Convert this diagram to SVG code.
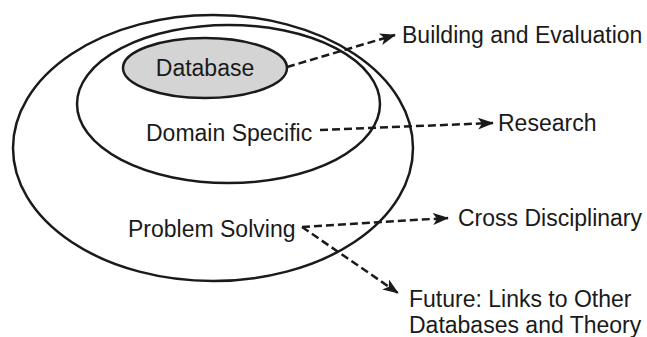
<svg xmlns="http://www.w3.org/2000/svg" width="647" height="337" viewBox="0 0 647 337">
<style>
.ring{fill:none;stroke:#1a1a1a;stroke-width:2.5}
.db{fill:#d4d4d4;stroke:#1a1a1a;stroke-width:2.5}
.t{font-family:"Liberation Sans",Arial,sans-serif;font-size:23px;fill:#1a1a1a}
.c{fill:none;stroke:#1a1a1a;stroke-width:2.5;stroke-dasharray:8 4;marker-end:url(#ah)}
</style>
<defs>
<marker id="ah" viewBox="0 0 16 12" refX="15" refY="6" markerWidth="16" markerHeight="12" markerUnits="userSpaceOnUse" orient="auto">
<path d="M0,0 L16,6 L0,12 L4,6 z" fill="#1a1a1a"/>
</marker>
</defs>
<g id="problem-solving">
<ellipse class="ring" cx="213" cy="148" rx="200" ry="133"/>
<text class="t" x="128" y="237">Problem Solving</text>
</g>
<g id="domain-specific">
<ellipse class="ring" cx="228.5" cy="104" rx="151.5" ry="79"/>
<text class="t" x="146" y="141">Domain Specific</text>
</g>
<g id="database">
<ellipse class="db" cx="205" cy="68" rx="82" ry="30"/>
<text class="t" x="205" y="76" text-anchor="middle">Database</text>
</g>
<g id="building"><text class="t" x="402" y="43">Building and Evaluation</text></g>
<g id="research"><text class="t" x="498" y="131">Research</text></g>
<g id="cross"><text class="t" x="458" y="226">Cross Disciplinary</text></g>
<g id="future"><text class="t" x="409" y="307">Future: Links to Other</text><text class="t" x="409" y="333">Databases and Theory</text></g>
<g id="connectors">
<path class="c" d="M287,67 L395,35"/>
<path class="c" d="M320,130 L493,123"/>
<path class="c" d="M302,227 L448,218"/>
<path class="c" d="M302,227 L398,293"/>
</g>
</svg>
